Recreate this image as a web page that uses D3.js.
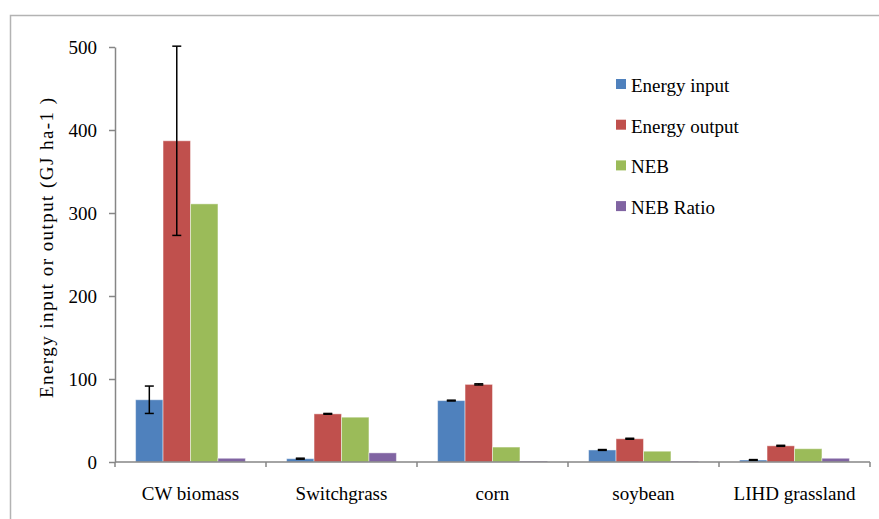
<!DOCTYPE html>
<html>
<head>
<meta charset="utf-8">
<script src="https://cdn.jsdelivr.net/npm/d3@7"></script>
</head>
<body style="margin:0;background:#fff">
<svg id="chart" width="879" height="519" font-family="Liberation Serif"></svg>
<script>
// Crop systems compared
const categories = ["CW biomass", "Switchgrass", "corn", "soybean", "LIHD grassland"];
const seriesNames = ["Energy input", "Energy output", "NEB", "NEB Ratio"];
const seriesColors = ["#4F81BD", "#C0504D", "#9BBB59", "#8064A2"];

// Values per series (GJ ha-1; NEB Ratio is unitless), one entry per crop
const energyInput  = [75, 4, 74, 14.5, 2.4];
const energyOutput = [387, 58, 93.5, 28, 19.5];
const neb          = [311, 54, 18, 13, 16];
const nebRatio     = [4.5, 11, 1.2, 1.0, 4.5];

// Standard errors (null = no error bar drawn)
const inputErr  = [16.5, 0.6, 0.5, 0.5, 0.5];
const outputErr = [114, 0.5, 0.7, 0.6, 0.6];
const nebErr    = [null, null, null, null, null];
const ratioErr  = [null, null, null, null, null];

const yTicks = [0, 100, 200, 300, 400, 500];

const seriesValues = [energyInput, energyOutput, neb, nebRatio];
const seriesErrors = [inputErr, outputErr, nebErr, ratioErr];

const svg = d3.select("#chart");
const axisColor = "#868686";
const fontFamily = "Liberation Serif";
const fontSize = 19;

// Outer frame (top and left edges of the chart area)
svg.append("path")
  .attr("d", "M10.5,519 L10.5,15.5 L879,15.5")
  .attr("fill", "none")
  .attr("stroke", "#b3b3b3")
  .attr("stroke-width", 1.5);

const x0 = d3.scaleBand().domain(categories).range([115, 870]).paddingInner(0).paddingOuter(0);
const x1 = d3.scaleBand().domain(d3.range(seriesNames.length)).range([0, x0.bandwidth()])
  .paddingInner(0).paddingOuter(0.75);
const y = d3.scaleLinear().domain([0, 500]).range([462, 47]);

// Bars
const groups = svg.append("g").selectAll("g")
  .data(categories)
  .join("g")
  .attr("transform", d => `translate(${x0(d)},0)`);

groups.selectAll("rect")
  .data((c, ci) => seriesValues.map((vals, si) => ({ si, v: vals[ci], e: seriesErrors[si][ci] })))
  .join("rect")
  .attr("x", d => x1(d.si))
  .attr("width", x1.bandwidth())
  .attr("y", d => y(d.v))
  .attr("height", d => y(0) - y(d.v))
  .attr("fill", d => seriesColors[d.si])
  .attr("stroke", "rgba(255,255,255,0.45)")
  .attr("stroke-width", 1);

// Error bars
const errs = groups.selectAll("g.err")
  .data((c, ci) => seriesValues.map((vals, si) => ({ si, v: vals[ci], e: seriesErrors[si][ci] })).filter(d => d.e != null))
  .join("g")
  .attr("class", "err");

errs.append("line")
  .attr("x1", d => x1(d.si) + x1.bandwidth() / 2)
  .attr("x2", d => x1(d.si) + x1.bandwidth() / 2)
  .attr("y1", d => y(d.v + d.e))
  .attr("y2", d => y(d.v - d.e))
  .attr("stroke", "#000")
  .attr("stroke-width", 1.5);

[1, -1].forEach(sign => {
  errs.append("line")
    .attr("x1", d => x1(d.si) + x1.bandwidth() / 2 - 4.5)
    .attr("x2", d => x1(d.si) + x1.bandwidth() / 2 + 4.5)
    .attr("y1", d => y(d.v + sign * d.e))
    .attr("y2", d => y(d.v + sign * d.e))
    .attr("stroke", "#000")
    .attr("stroke-width", 1.5);
});

// Y axis
const yAxis = svg.append("g")
  .attr("transform", "translate(115,0)")
  .call(d3.axisLeft(y).tickValues(yTicks).tickSize(6).tickPadding(12).tickSizeOuter(0));
yAxis.attr("font-family", fontFamily).attr("font-size", fontSize);
yAxis.select(".domain").attr("stroke", axisColor).attr("stroke-width", 1.5);
yAxis.selectAll(".tick line").attr("stroke", axisColor).attr("stroke-width", 1.5);
yAxis.selectAll(".tick text")
  .attr("fill", "#000")
  .attr("font-family", fontFamily)
  .attr("font-size", fontSize);

// X axis with ticks at category boundaries
const xAxisG = svg.append("g");
xAxisG.append("line")
  .attr("x1", 115).attr("x2", 870)
  .attr("y1", y(0)).attr("y2", y(0))
  .attr("stroke", axisColor).attr("stroke-width", 1.5);
const boundaries = categories.map(c => x0(c)).concat([x0(categories[categories.length - 1]) + x0.bandwidth()]);
xAxisG.selectAll("line.tk")
  .data(boundaries)
  .join("line")
  .attr("class", "tk")
  .attr("x1", d => d).attr("x2", d => d)
  .attr("y1", y(0)).attr("y2", y(0) + 5)
  .attr("stroke", axisColor).attr("stroke-width", 1.5);
xAxisG.selectAll("text")
  .data(categories)
  .join("text")
  .attr("x", d => x0(d) + x0.bandwidth() / 2)
  .attr("y", 500)
  .attr("text-anchor", "middle")
  .attr("font-family", fontFamily)
  .attr("font-size", fontSize)
  .attr("fill", "#000")
  .text(d => d);

// Y axis title, stretched along the axis
const titleLen = 300;
svg.append("text")
  .attr("transform", `translate(53,${248 + titleLen / 2}) rotate(-90)`)
  .attr("x", 0)
  .attr("textLength", titleLen)
  .attr("lengthAdjust", "spacing")
  .attr("font-family", fontFamily)
  .attr("font-size", fontSize)
  .attr("fill", "#000")
  .text("Energy input or output  (GJ ha-1 )");

// Legend
const legend = svg.append("g").selectAll("g")
  .data(seriesNames)
  .join("g")
  .attr("transform", (d, i) => `translate(616,${79 + i * 40.7})`);
legend.append("rect")
  .attr("width", 10).attr("height", 10)
  .attr("fill", (d, i) => seriesColors[i]);
legend.append("text")
  .attr("x", 15)
  .attr("y", 13)
  .attr("font-family", fontFamily)
  .attr("font-size", fontSize)
  .attr("fill", "#000")
  .text(d => d);
</script>
</body>
</html>
